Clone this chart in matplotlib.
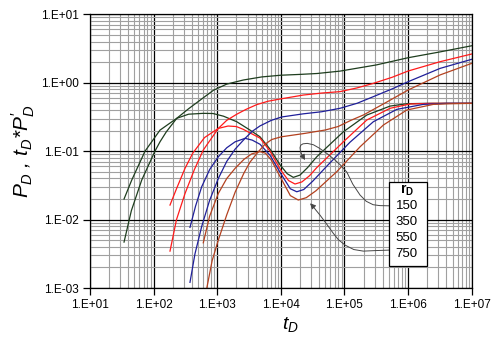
import numpy as np
import matplotlib
matplotlib.use("Agg")
import matplotlib.pyplot as plt
from matplotlib.ticker import LogLocator, FuncFormatter, NullFormatter

# rD values shown in the legend box
r_d = ["150", "350", "550", "750"]
colors = ["#1e3d1e", "#ff1a1a", "#1f1f99", "#b3411f"]

# pressure PD (rising curves)
pd_t_150 = [34.3, 44.7, 65.0, 105, 126, 158, 231, 355, 537, 871, 1410, 2570, 5010, 10000, 20000,
            37200, 85100, 316000, 1e6, 3.16e6, 1e7]
pd_p_150 = [0.00469, 0.0135, 0.0378, 0.100, 0.137, 0.191, 0.302, 0.417, 0.556, 0.776, 0.955, 1.096,
            1.216, 1.288, 1.324, 1.365, 1.479, 1.820, 2.32, 2.82, 3.47]
pd_t_350 = [181, 229, 312, 437, 604, 1040, 1410, 2030, 2820, 4180, 6310, 10100, 22600, 44700, 85100,
            158000, 284000, 562000, 1e6, 3.18e6, 1e7]
pd_p_350 = [0.00346, 0.0100, 0.0241, 0.0537, 0.104, 0.215, 0.282, 0.347, 0.407, 0.479, 0.537, 0.582,
            0.661, 0.708, 0.741, 0.841, 0.979, 1.202, 1.483, 2.03, 2.63]
pd_t_550 = [373, 447, 570, 759, 1040, 1410, 1910, 2740, 3550, 4710, 7080, 10300, 22400, 44000, 85100,
            158000, 282000, 562000, 1e6, 3.18e6, 1e7]
pd_p_550 = [0.00121, 0.00316, 0.00794, 0.0191, 0.0398, 0.0708, 0.107, 0.154, 0.195, 0.234, 0.282,
            0.316, 0.351, 0.377, 0.423, 0.501, 0.624, 0.813, 1.035, 1.62, 2.20]
pd_t_750 = [684, 832, 1040, 1410, 1910, 2630, 3280, 4380, 5620, 7200, 10100, 24000, 50100, 79400,
            126000, 200000, 447000, 1e6, 3.18e6, 1e7]
pd_p_750 = [0.000986, 0.00251, 0.00501, 0.0117, 0.0251, 0.0479, 0.0693, 0.0970, 0.126, 0.148, 0.162,
            0.182, 0.204, 0.229, 0.282, 0.339, 0.513, 0.782, 1.30, 1.92]

# derivative tD*PD' (hump, dip, plateau at 0.5)
dv_t_150 = [34.3, 45.3, 73.3, 126, 231, 355, 603, 859, 1260, 2030, 3280, 4710, 6760, 9710, 12600,
            15700, 20000, 26300, 36700, 96100, 224000, 521000, 955000, 2.0e6, 1e7]
dv_p_150 = [0.0200, 0.0378, 0.100, 0.203, 0.302, 0.347, 0.357, 0.355, 0.324, 0.269, 0.203, 0.162,
            0.107, 0.0631, 0.0468, 0.0414, 0.0447, 0.0575, 0.0828, 0.192, 0.337, 0.456, 0.493, 0.500, 0.500]
dv_t_350 = [181, 231, 312, 412, 631, 1040, 1480, 1995, 2550, 3550, 4710, 6760, 10000, 13200, 16700,
            21400, 28200, 36700, 96100, 224000, 521000, 1.07e6, 2.51e6, 1e7]
dv_p_350 = [0.0163, 0.0288, 0.0562, 0.0933, 0.158, 0.215, 0.233, 0.229, 0.209, 0.178, 0.155, 0.100,
            0.0525, 0.0372, 0.0331, 0.0355, 0.0437, 0.0575, 0.137, 0.285, 0.423, 0.489, 0.500, 0.500]
dv_t_550 = [373, 457, 570, 759, 1040, 1410, 1910, 2740, 3550, 4710, 6760, 10000, 14100, 17800, 22900,
            31600, 52700, 122000, 284000, 664000, 1.74e6, 3.98e6, 1e7]
dv_p_550 = [0.00769, 0.0158, 0.0302, 0.0537, 0.0828, 0.112, 0.137, 0.154, 0.145, 0.126, 0.0871,
            0.0468, 0.0282, 0.0255, 0.0275, 0.0363, 0.0603, 0.135, 0.269, 0.408, 0.483, 0.500, 0.500]
dv_t_750 = [604, 759, 1040, 1410, 1910, 2630, 3480, 4710, 5750, 7080, 10100, 14100, 18800, 25100,
            35500, 75700, 176000, 409000, 953000, 2.5e6, 4.57e6, 1e7]
dv_p_750 = [0.00458, 0.0112, 0.0241, 0.0398, 0.0561, 0.0759, 0.0912, 0.0986, 0.0933, 0.0741, 0.0398,
            0.0224, 0.0193, 0.0209, 0.0263, 0.0501, 0.116, 0.241, 0.399, 0.483, 0.493, 0.500]

pd_t = [pd_t_150, pd_t_350, pd_t_550, pd_t_750]
pd_p = [pd_p_150, pd_p_350, pd_p_550, pd_p_750]
dv_t = [dv_t_150, dv_t_350, dv_t_550, dv_t_750]
dv_p = [dv_p_150, dv_p_350, dv_p_550, dv_p_750]

# leader lines from the legend box to the curves (tD, value)
lead1_t = [5.02e5, 3.6e5, 2.82e5, 2.2e5, 1.76e5, 1.35e5, 1.09e5, 8.6e4, 7.11e4, 5.27e4, 4.0e4,
           3.25e4, 2.6e4, 2.23e4, 2.05e4, 2.0e4, 2.03e4, 2.1e4]
lead1_p = [0.0159, 0.0160, 0.0165, 0.0185, 0.0228, 0.0330, 0.0494, 0.0630, 0.0741, 0.0929, 0.111,
           0.124, 0.130, 0.128, 0.122, 0.112, 0.102, 0.092]
lead2_t = [5.02e5, 3.0e5, 1.98e5, 1.4e5, 1.02e5, 8.0e4, 6.69e4, 5.2e4, 4.13e4, 3.5e4, 3.25e4]
lead2_p = [0.00358, 0.00352, 0.00346, 0.00365, 0.00424, 0.00510, 0.00628, 0.00870, 0.0116, 0.0140, 0.0154]

plt.rcParams['font.family'] = ['Liberation Sans', 'DejaVu Sans']
plt.rcParams['mathtext.fontset'] = 'custom'
plt.rcParams['mathtext.rm'] = 'Liberation Sans'
plt.rcParams['mathtext.it'] = 'Liberation Sans:italic'
plt.rcParams['mathtext.bf'] = 'Liberation Sans:bold'

fig = plt.figure(figsize=(4.98, 3.45), dpi=100)
ax = fig.add_axes([0.1807, 0.1652, 0.7665, 0.7933])
ax.set_xscale('log')
ax.set_yscale('log')
ax.set_xlim(10, 1e7)
ax.set_ylim(1e-3, 10)

ax.xaxis.set_major_locator(LogLocator(base=10, numticks=20))
ax.yaxis.set_major_locator(LogLocator(base=10, numticks=20))
ax.xaxis.set_minor_locator(LogLocator(base=10, subs=np.arange(2, 10), numticks=100))
ax.yaxis.set_minor_locator(LogLocator(base=10, subs=np.arange(2, 10), numticks=100))
fmt = FuncFormatter(lambda v, pos: "1.E%+03d" % int(round(np.log10(v))))
ax.xaxis.set_major_formatter(fmt)
ax.yaxis.set_major_formatter(fmt)
ax.xaxis.set_minor_formatter(NullFormatter())
ax.yaxis.set_minor_formatter(NullFormatter())

ax.grid(which='minor', color='#a0a0a0', lw=0.8)
ax.grid(which='major', color='black', lw=0.9)
ax.set_axisbelow(True)
ax.tick_params(which='major', length=5, width=0.9, direction='out', labelsize=8.5, pad=3)
ax.tick_params(which='minor', length=0)
for s in ax.spines.values():
    s.set_linewidth(0.9)

for i in range(4):
    ax.plot(pd_t[i], pd_p[i], color=colors[i], lw=0.9)
    ax.plot(dv_t[i], dv_p[i], color=colors[i], lw=0.9)

lc = '#454545'
ax.plot(lead1_t, lead1_p, color=lc, lw=0.7)
ax.annotate('', xy=(2.4e4, 0.0741), xytext=(lead1_t[-1], lead1_p[-1]),
            arrowprops=dict(arrowstyle='-|>', color=lc, lw=0.7, mutation_scale=8,
                            shrinkA=0, shrinkB=0))
ax.plot(lead2_t, lead2_p, color=lc, lw=0.7)
ax.annotate('', xy=(2.88e4, 0.0173), xytext=(lead2_t[-1], lead2_p[-1]),
            arrowprops=dict(arrowstyle='-|>', color=lc, lw=0.7, mutation_scale=8,
                            shrinkA=0, shrinkB=0))

# legend box
box = plt.Rectangle((0.784, 0.080), 0.100, 0.306, transform=ax.transAxes,
                    facecolor='white', edgecolor='black', lw=0.9, zorder=5)
ax.add_patch(box)
ax.text(0.83, 0.357, r"$\mathbf{r_D}$", transform=ax.transAxes, ha='center', va='center',
        fontsize=10, zorder=6)
for lab, yy in zip(r_d, [0.30, 0.240, 0.181, 0.123]):
    ax.text(0.83, yy, lab, transform=ax.transAxes, ha='center', va='center',
            fontsize=9.5, zorder=6)

ax.set_xlabel(r"$t_D$", fontsize=14)
ax.xaxis.set_label_coords(0.524, -0.1)
ax.set_ylabel(r"$P_D$ , $t_D$*$P_D'$", fontsize=15, fontstyle='italic', labelpad=3)

fig.savefig("out.png", dpi=100)
